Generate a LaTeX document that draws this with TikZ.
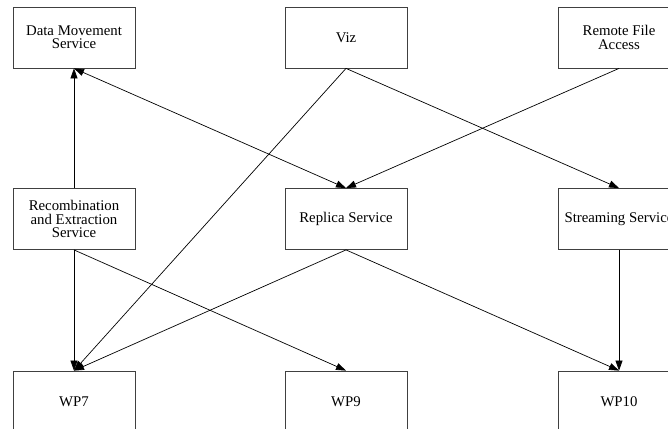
\documentclass[tikz,border=0pt]{standalone}
\usepackage{fontspec}
\setmainfont{Liberation Serif}
\usetikzlibrary{arrows.meta}
\begin{document}
\begin{tikzpicture}[x=1pt,y=-1pt,
  box/.style={draw=black!75, line width=0.8pt, rectangle, minimum width=122pt, minimum height=61pt,
    inner sep=0pt, align=center, font=\fontsize{14.8}{13.4}\selectfont},
  link/.style={line width=0.7pt, -{Triangle[length=10pt,width=7pt]}},
  both/.style={line width=0.7pt, {Triangle[length=10pt,width=7pt]}-{Triangle[length=10pt,width=7pt]}}]
\useasboundingbox (0,0) rectangle (668,428);
\clip (0,0) rectangle (668,428);
% top row
\node[box] (dms) at (74,37.5) {Data Movement\\Service};
\node[box] (viz) at (346,37.5) {Viz};
\node[box] (rfa) at (619,37.5) {Remote File\\Access};
% middle row
\node[box] (res) at (74,219) {Recombination\\and Extraction\\Service};
\node[box] (rep) at (346,219) {Replica Service};
\node[box] (str) at (619,219) {Streaming Service};
% bottom row
\node[box] (wp7) at (74,401.5) {WP7};
\node[box] (wp9) at (346,401.5) {WP9};
\node[box] (wp10) at (619,401.5) {WP10};
% connectors
\draw[link] (res.north) -- (dms.south);
\draw[both] (dms.south) -- (rep.north);
\draw[link] (viz.south) -- (wp7.north);
\draw[link] (viz.south) -- (str.north);
\draw[link] (rfa.south) -- (rep.north);
\draw[link] (res.south) -- (wp7.north);
\draw[link] (res.south) -- (wp9.north);
\draw[link] (rep.south) -- (wp7.north);
\draw[link] (rep.south) -- (wp10.north);
\draw[link] (str.south) -- (wp10.north);
\end{tikzpicture}
\end{document}
